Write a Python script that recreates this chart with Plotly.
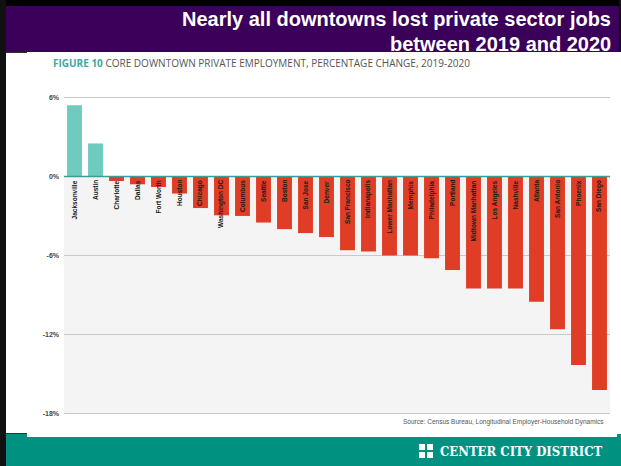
import plotly.graph_objects as go

# Core downtown private employment, % change 2019-2020
cities = [
    "Jacksonville", "Austin", "Charlotte", "Dallas", "Fort Worth", "Houston",
    "Chicago", "Washington DC", "Columbus", "Seattle", "Boston", "San Jose",
    "Denver", "San Francisco", "Indianapolis", "Lower Manhattan", "Memphis",
    "Philadelphia", "Portland", "Midtown Manhattan", "Los Angeles", "Nashville",
    "Atlanta", "San Antonio", "Phoenix", "San Diego",
]
pct_change = [
    5.4, 2.5, -0.35, -0.6, -0.8, -1.3,
    -2.4, -2.95, -3.0, -3.5, -4.0, -4.3,
    -4.6, -5.6, -5.7, -6.0, -6.0,
    -6.2, -7.1, -8.5, -8.5, -8.5,
    -9.5, -11.6, -14.3, -16.2,
]
tick_values = [6, 0, -6, -12, -18]
tick_labels = ["6%", "0%", "-6%", "-12%", "-18%"]

title_lines = ["Nearly all downtowns lost private sector jobs", "between 2019 and 2020"]
source_note = "Source: Census Bureau, Longitudinal Employer-Household Dynamics"

# canvas / margin geometry (pixels)
FIG_W, FIG_H = 621, 466
ML, MR, MT, MB = 64, 11, 96, 51
PW = FIG_W - ML - MR
PH = FIG_H - MT - MB


def px(x):
    """pixel x -> paper x"""
    return (x - ML) / PW


def py(y):
    """pixel y (from top) -> paper y"""
    return (FIG_H - MB - y) / PH


PURPLE = "#3a005a"
TEAL_BAND = "#009180"
TEAL_BAR = "#6ecbbd"
RED_BAR = "#e03d27"
ZERO_LINE = "#3a9e94"
GRID = "#c9c9c9"

bar_colors = [TEAL_BAR if v >= 0 else RED_BAR for v in pct_change]

fig = go.Figure(
    go.Bar(
        x=cities,
        y=pct_change,
        marker=dict(color=bar_colors, line=dict(width=0)),
        hoverinfo="x+y",
    )
)


def rect(x0, y0, x1, y1, color, layer="below"):
    return dict(
        type="rect", xref="paper", yref="paper",
        x0=px(x0), x1=px(x1), y0=py(y1), y1=py(y0),
        fillcolor=color, line=dict(width=0), layer=layer,
    )


shapes = [
    # slide frame
    rect(0, 0, 621, 6, "#000000"),
    rect(0, 0, 6, 466, "#111111"),
    rect(619, 0, 621, 52, "#111111"),
    # title band
    rect(6, 6, 619, 52, PURPLE),
    # footer band
    rect(6, 434, 621, 466, TEAL_BAND),
    rect(27, 428, 617, 437, "#ffffff"),
    # small frame ticks at the inset corners
    dict(type="line", xref="paper", yref="paper",
         x0=px(6), x1=px(27), y0=py(433.5), y1=py(433.5),
         line=dict(color="#333333", width=1), layer="below"),
    dict(type="line", xref="paper", yref="paper",
         x0=px(6), x1=px(27), y0=py(52.5), y1=py(52.5),
         line=dict(color="#333333", width=1), layer="below"),
    # shaded area below zero
    dict(type="rect", xref="paper", yref="y", x0=0, x1=1, y0=-18, y1=0,
         fillcolor="#f4f4f4", line=dict(width=0), layer="below"),
    # zero line above bars
    dict(type="line", xref="paper", yref="y", x0=0, x1=1, y0=0, y1=0,
         line=dict(color=ZERO_LINE, width=1.5), layer="above"),
]

# logo mark: four small squares
for cx, cy in [(419, 444), (427, 444), (419, 452), (427, 452)]:
    shapes.append(rect(cx, cy, cx + 6, cy + 6, "#ffffff", layer="above"))

annotations = []

# city labels, rotated, hanging below the zero line
for city in cities:
    annotations.append(dict(
        x=city, y=0, xref="x", yref="y",
        text=city, textangle=-90, showarrow=False,
        xanchor="center", yanchor="top", yshift=-2,
        font=dict(family="Liberation Sans", size=6.5, color="#1a1a1a", weight="bold"),
    ))

# title lines
for text, ypix in zip(title_lines, [19, 44]):
    annotations.append(dict(
        x=px(613), y=py(ypix), xref="paper", yref="paper",
        text=text, showarrow=False, xanchor="right", yanchor="middle",
        font=dict(family="Liberation Sans", size=20, color="#ffffff", weight="bold"),
    ))

# figure caption
annotations.append(dict(
    x=px(51), y=py(63), xref="paper", yref="paper",
    text="<span style='color:#3aa9a0'><b>FIGURE 10</b></span> CORE DOWNTOWN PRIVATE EMPLOYMENT, PERCENTAGE CHANGE, 2019-2020",
    showarrow=False, xanchor="left", yanchor="middle",
    font=dict(family="Open Sans", size=10, color="#555555"),
))

# source note
annotations.append(dict(
    x=px(606), y=py(422), xref="paper", yref="paper",
    text=source_note, showarrow=False, xanchor="right", yanchor="middle",
    font=dict(family="Liberation Sans", size=6.5, color="#555555"),
))

# footer wordmark
annotations.append(dict(
    x=px(604), y=py(451), xref="paper", yref="paper",
    text="CENTER CITY DISTRICT", showarrow=False, xanchor="right", yanchor="middle",
    font=dict(family="DejaVu Serif Condensed", size=13, color="#ffffff", weight="bold"),
))

fig.update_layout(
    width=FIG_W, height=FIG_H,
    margin=dict(l=ML, r=MR, t=MT, b=MB, pad=0),
    paper_bgcolor="#ffffff",
    plot_bgcolor="rgba(0,0,0,0)",
    showlegend=False,
    bargap=0.29,
    shapes=shapes,
    annotations=annotations,
    xaxis=dict(
        range=[-0.5, len(cities) - 0.5],
        showticklabels=False, showgrid=False, zeroline=False, showline=False,
        fixedrange=True,
    ),
    yaxis=dict(
        range=[-18.1, 6.1],
        tickmode="array", tickvals=tick_values, ticktext=tick_labels,
        showgrid=True, gridcolor=GRID, gridwidth=1,
        zeroline=False, showline=False, ticks="",
        ticklabelstandoff=4,
        tickfont=dict(family="Liberation Sans", size=7, color="#444444", weight="bold"),
        fixedrange=True,
    ),
)

fig.write_html("out.html", config={"displayModeBar": False})
